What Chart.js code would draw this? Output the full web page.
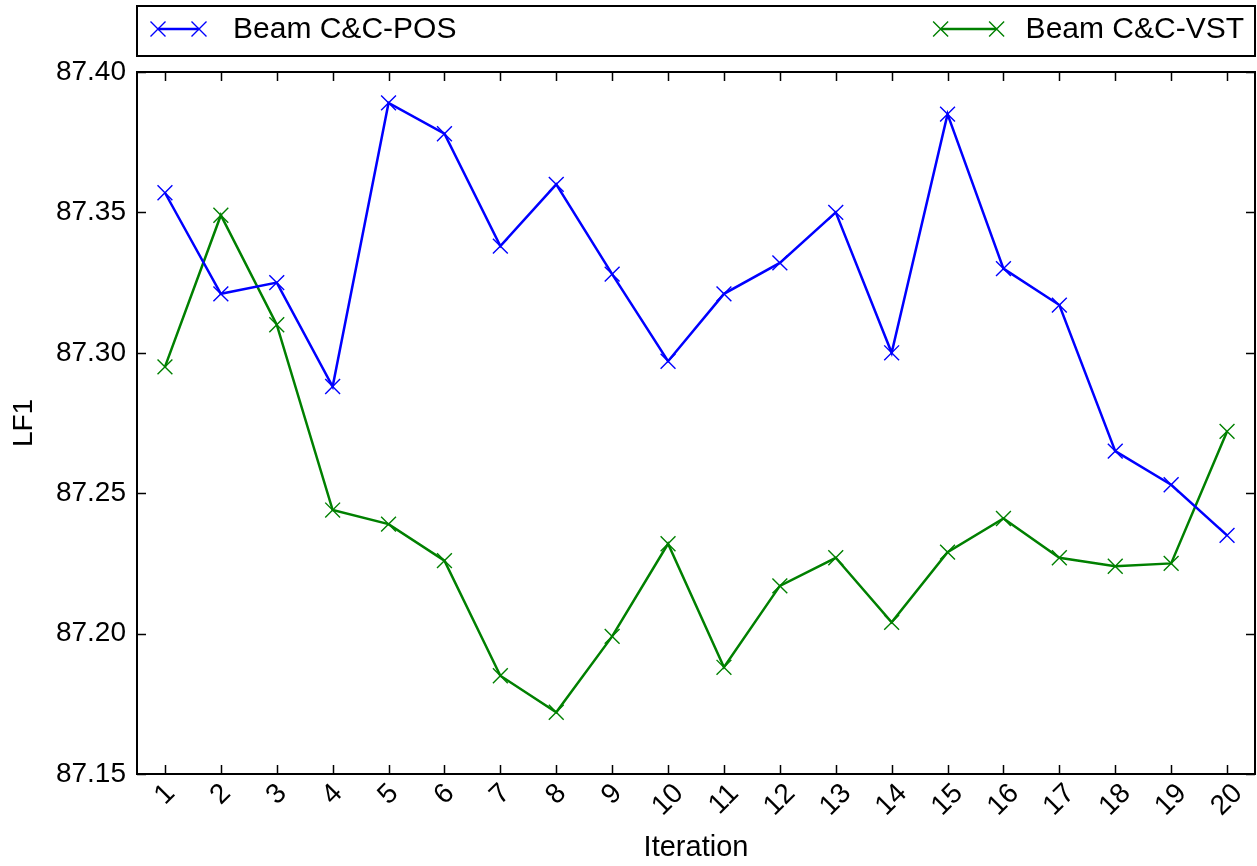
<!DOCTYPE html>
<html>
<head>
<meta charset="utf-8">
<script src="https://cdn.jsdelivr.net/npm/chart.js@4"></script>
<style>
  html, body { margin: 0; padding: 0; background: #ffffff; overflow: hidden; }
  canvas { display: block; }
</style>
</head>
<body>
<canvas id="c" width="1257" height="866" style="width:1257px;height:866px"></canvas>
<script>
// ---- data ----
const iterations = ['1','2','3','4','5','6','7','8','9','10','11','12','13','14','15','16','17','18','19','20'];
const posValues = [87.357, 87.321, 87.325, 87.288, 87.389, 87.378, 87.338, 87.360, 87.328, 87.297,
                   87.321, 87.332, 87.350, 87.300, 87.385, 87.330, 87.317, 87.265, 87.253, 87.235];
const vstValues = [87.295, 87.349, 87.310, 87.244, 87.239, 87.226, 87.185, 87.172, 87.199, 87.232,
                   87.188, 87.217, 87.227, 87.204, 87.229, 87.241, 87.227, 87.224, 87.225, 87.272];
const seriesNames = ['Beam C&C-POS', 'Beam C&C-VST'];
const yMin = 87.15, yMax = 87.40, yStep = 0.05;
const xTitle = 'Iteration';
const yTitle = 'LF1';

const FONT = 'Liberation Sans, Arial, Helvetica, sans-serif';
const FSIZE = 28;
const LFSIZE = 30;

// custom plugin: frame, inward ticks, rotated x labels, expanded legend
const decor = {
  id: 'decor',
  afterDraw(chart) {
    const ctx = chart.ctx;
    const a = chart.chartArea;
    const xs = chart.scales.x, ys = chart.scales.y;
    ctx.save();
    // ticks (inward, all sides)
    ctx.strokeStyle = '#000';
    ctx.lineWidth = 1.5;
    const TL = 9;
    ctx.beginPath();
    ys.ticks.forEach(t => {
      const y = Math.round(ys.getPixelForValue(t.value)) + 0.5;
      ctx.moveTo(a.left, y); ctx.lineTo(a.left + TL, y);
      ctx.moveTo(a.right, y); ctx.lineTo(a.right - TL, y);
    });
    iterations.forEach((lab, i) => {
      const x = Math.round(xs.getPixelForValue(i)) + 0.5;
      ctx.moveTo(x, a.bottom); ctx.lineTo(x, a.bottom - TL);
      ctx.moveTo(x, a.top); ctx.lineTo(x, a.top + TL);
    });
    ctx.stroke();
    // frame
    ctx.lineWidth = 2;
    ctx.strokeRect(a.left, a.top, a.right - a.left, a.bottom - a.top);

    // rotated x tick labels, centred under each tick
    ctx.fillStyle = '#000';
    ctx.font = FSIZE + 'px ' + FONT;
    ctx.textAlign = 'center';
    ctx.textBaseline = 'middle';
    const capH = FSIZE * 0.72;
    iterations.forEach((lab, i) => {
      const x = xs.getPixelForValue(i);
      const w = ctx.measureText(lab).width;
      const bh = (w + capH) * Math.SQRT1_2;
      ctx.save();
      ctx.translate(x, a.bottom + 8 + bh / 2);
      ctx.rotate(-Math.PI / 4);
      ctx.fillText(lab, 0, 0);
      ctx.restore();
    });

    // legend (expanded across the plot width)
    const lx = a.left, ly = 6, lw = a.right - a.left, lh = 50;
    ctx.lineWidth = 2;
    ctx.strokeStyle = '#000';
    ctx.fillStyle = '#fff';
    ctx.fillRect(lx, ly, lw, lh);
    ctx.strokeRect(lx, ly, lw, lh);
    ctx.font = LFSIZE + 'px ' + FONT;
    const cy = 29;
    const ds = chart.data.datasets;
    const drawEntry = (d, hx0, hx1, tx, align) => {
      ctx.strokeStyle = d.borderColor;
      ctx.lineWidth = 2.5;
      ctx.beginPath(); ctx.moveTo(hx0, cy); ctx.lineTo(hx1, cy); ctx.stroke();
      ctx.lineWidth = 1.4;
      const r = 7.5;
      [hx0, hx1].forEach(mx => {
        ctx.beginPath();
        ctx.moveTo(mx - r, cy - r); ctx.lineTo(mx + r, cy + r);
        ctx.moveTo(mx - r, cy + r); ctx.lineTo(mx + r, cy - r);
        ctx.stroke();
      });
      ctx.fillStyle = '#000';
      ctx.textAlign = align;
      ctx.textBaseline = 'middle';
      ctx.fillText(d.label, tx, cy + 1);
    };
    drawEntry(ds[0], a.left + 21, a.left + 62, a.left + 96, 'left');
    const tEnd = a.right - 11;
    const tw = ctx.measureText(ds[1].label).width;
    const hEnd = tEnd - tw - 29;
    drawEntry(ds[1], hEnd - 56, hEnd, tEnd, 'right');
    ctx.restore();
  }
};

new Chart(document.getElementById('c'), {
  type: 'line',
  data: {
    labels: iterations,
    datasets: [
      { label: seriesNames[0], data: posValues, borderColor: '#0000ff', backgroundColor: '#0000ff',
        borderWidth: 2.5, tension: 0, fill: false,
        pointStyle: 'crossRot', pointRadius: 10.5, pointBorderWidth: 1.4,
        pointBorderColor: '#0000ff', pointHoverRadius: 10.5 },
      { label: seriesNames[1], data: vstValues, borderColor: '#008000', backgroundColor: '#008000',
        borderWidth: 2.5, tension: 0, fill: false,
        pointStyle: 'crossRot', pointRadius: 10.5, pointBorderWidth: 1.4,
        pointBorderColor: '#008000', pointHoverRadius: 10.5 }
    ]
  },
  options: {
    responsive: false,
    animation: false,
    events: [],
    layout: { autoPadding: false, padding: { left: 0, right: 2, top: 72, bottom: 0 } },
    plugins: { legend: { display: false }, tooltip: { enabled: false } },
    scales: {
      x: {
        type: 'category',
        offset: true,
        grid: { display: false, drawTicks: false },
        border: { display: false },
        ticks: { display: false },
        title: { display: true, text: xTitle, color: '#000',
                 font: { family: FONT, size: 29 }, padding: { top: 0, bottom: 1 } },
        afterFit: s => { s.height = 92; }
      },
      y: {
        min: yMin, max: yMax,
        grid: { display: false, drawTicks: false },
        border: { display: false },
        ticks: { stepSize: yStep, color: '#000', padding: 11,
                 font: { family: FONT, size: FSIZE },
                 callback: v => Number(v).toFixed(2) },
        title: { display: true, text: yTitle, color: '#000',
                 font: { family: FONT, size: FSIZE }, padding: { top: 7, bottom: 0 } },
        afterFit: s => { s.width = 137; }
      }
    }
  },
  plugins: [decor]
});
</script>
</body>
</html>
